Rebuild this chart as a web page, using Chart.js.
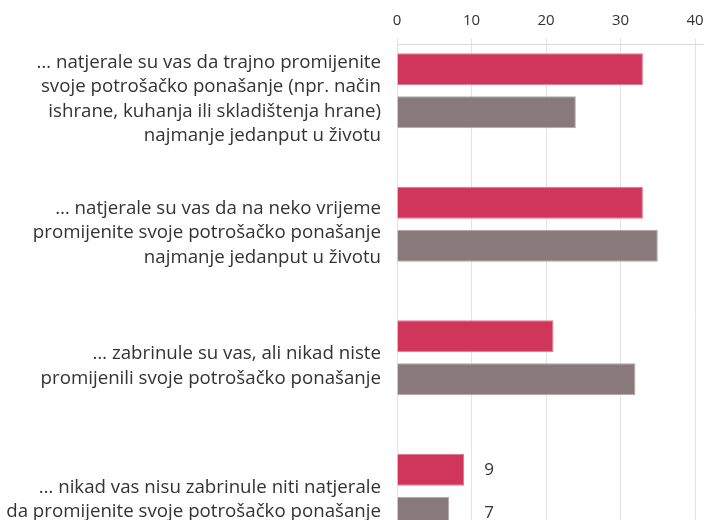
<!DOCTYPE html>
<html>
<head>
<meta charset="utf-8">
<script src="https://cdn.jsdelivr.net/npm/chart.js@4/dist/chart.umd.min.js"></script>
<style>
  html, body { margin: 0; padding: 0; background: #fff; overflow: hidden; }
  canvas { display: block; }
</style>
</head>
<body>
<canvas id="chart" width="704" height="580"></canvas>
<script>
const categories = [
  ["… natjerale su vas da trajno promijenite", "svoje potrošačko ponašanje (npr. način", "ishrane, kuhanja ili skladištenja hrane)", "najmanje jedanput u životu"],
  ["… natjerale su vas da na neko vrijeme", "promijenite svoje potrošačko ponašanje", "najmanje jedanput u životu"],
  ["… zabrinule su vas, ali nikad niste", "promijenili svoje potrošačko ponašanje"],
  ["… nikad vas nisu zabrinule niti natjerale", "da promijenite svoje potrošačko ponašanje"]
];
const seriesA = [33, 33, 21, 9];
const seriesB = [24, 35, 32, 7];
const xTicks = [0, 10, 20, 30, 40];
const labelledGroups = [3];

const FONT = "'Open Sans', 'DejaVu Sans', sans-serif";
const TEXT = "#333333";

// value labels, only for the groups listed above
const groupLabels = {
  id: "groupLabels",
  afterDatasetsDraw(chart) {
    const { ctx, scales } = chart;
    ctx.save();
    ctx.font = "17px " + FONT;
    ctx.fillStyle = TEXT;
    ctx.textAlign = "center";
    ctx.textBaseline = "middle";
    for (const g of labelledGroups) {
      const top = Math.max(...chart.data.datasets.map((d) => d.data[g].x));
      const x = scales.x.getPixelForValue(top) + 25;
      chart.data.datasets.forEach((d, i) => {
        const bar = chart.getDatasetMeta(i).data[g];
        ctx.fillText(String(d.data[g].x), x, bar.y);
      });
    }
    ctx.restore();
  }
};

const toPoints = (arr) => arr.map((v, i) => ({ x: v, y: i }));

new Chart(document.getElementById("chart"), {
  type: "bar",
  data: {
    datasets: [
      { label: "A", data: toPoints(seriesA), backgroundColor: "#CF3659", borderColor: "#E07590", borderWidth: 1 },
      { label: "B", data: toPoints(seriesB), backgroundColor: "#88797B", borderColor: "#B3A9AB", borderWidth: 1 }
    ]
  },
  options: {
    indexAxis: "y",
    responsive: false,
    animation: false,
    categoryPercentage: 0.644,
    barPercentage: 0.744,
    layout: { autoPadding: false, padding: { top: 12, right: 0, bottom: 0, left: 0 } },
    plugins: { legend: { display: false }, tooltip: { enabled: false } },
    scales: {
      x: {
        type: "linear",
        position: "top",
        min: 0,
        max: 41.2,
        grid: { color: "#e3e3e3", tickLength: 6 },
        border: { color: "#dcdcdc" },
        afterBuildTicks: (s) => { s.ticks = xTicks.map((v) => ({ value: v })); },
        afterFit: (s) => { s.height = 32; s.paddingLeft = 0; s.paddingRight = 0; },
        ticks: { font: { family: FONT, size: 15 }, color: TEXT, padding: 8 }
      },
      y: {
        type: "linear",
        reverse: true,
        offset: false,
        min: -0.35,
        max: 3.665,
        grid: { display: false, drawTicks: false },
        border: { display: false },
        afterFit: (s) => { s.width = 397; s.paddingTop = 0; s.paddingBottom = 0; },
        afterBuildTicks: (s) => { s.ticks = categories.map((_, i) => ({ value: i + 0.065 })); },
        ticks: {
          autoSkip: false,
          padding: 16,
          color: TEXT,
          font: { family: FONT, size: 18.7, lineHeight: 1.31 },
          callback: (v) => categories[Math.round(v)]
        }
      }
    }
  },
  plugins: [groupLabels]
});
</script>
</body>
</html>
